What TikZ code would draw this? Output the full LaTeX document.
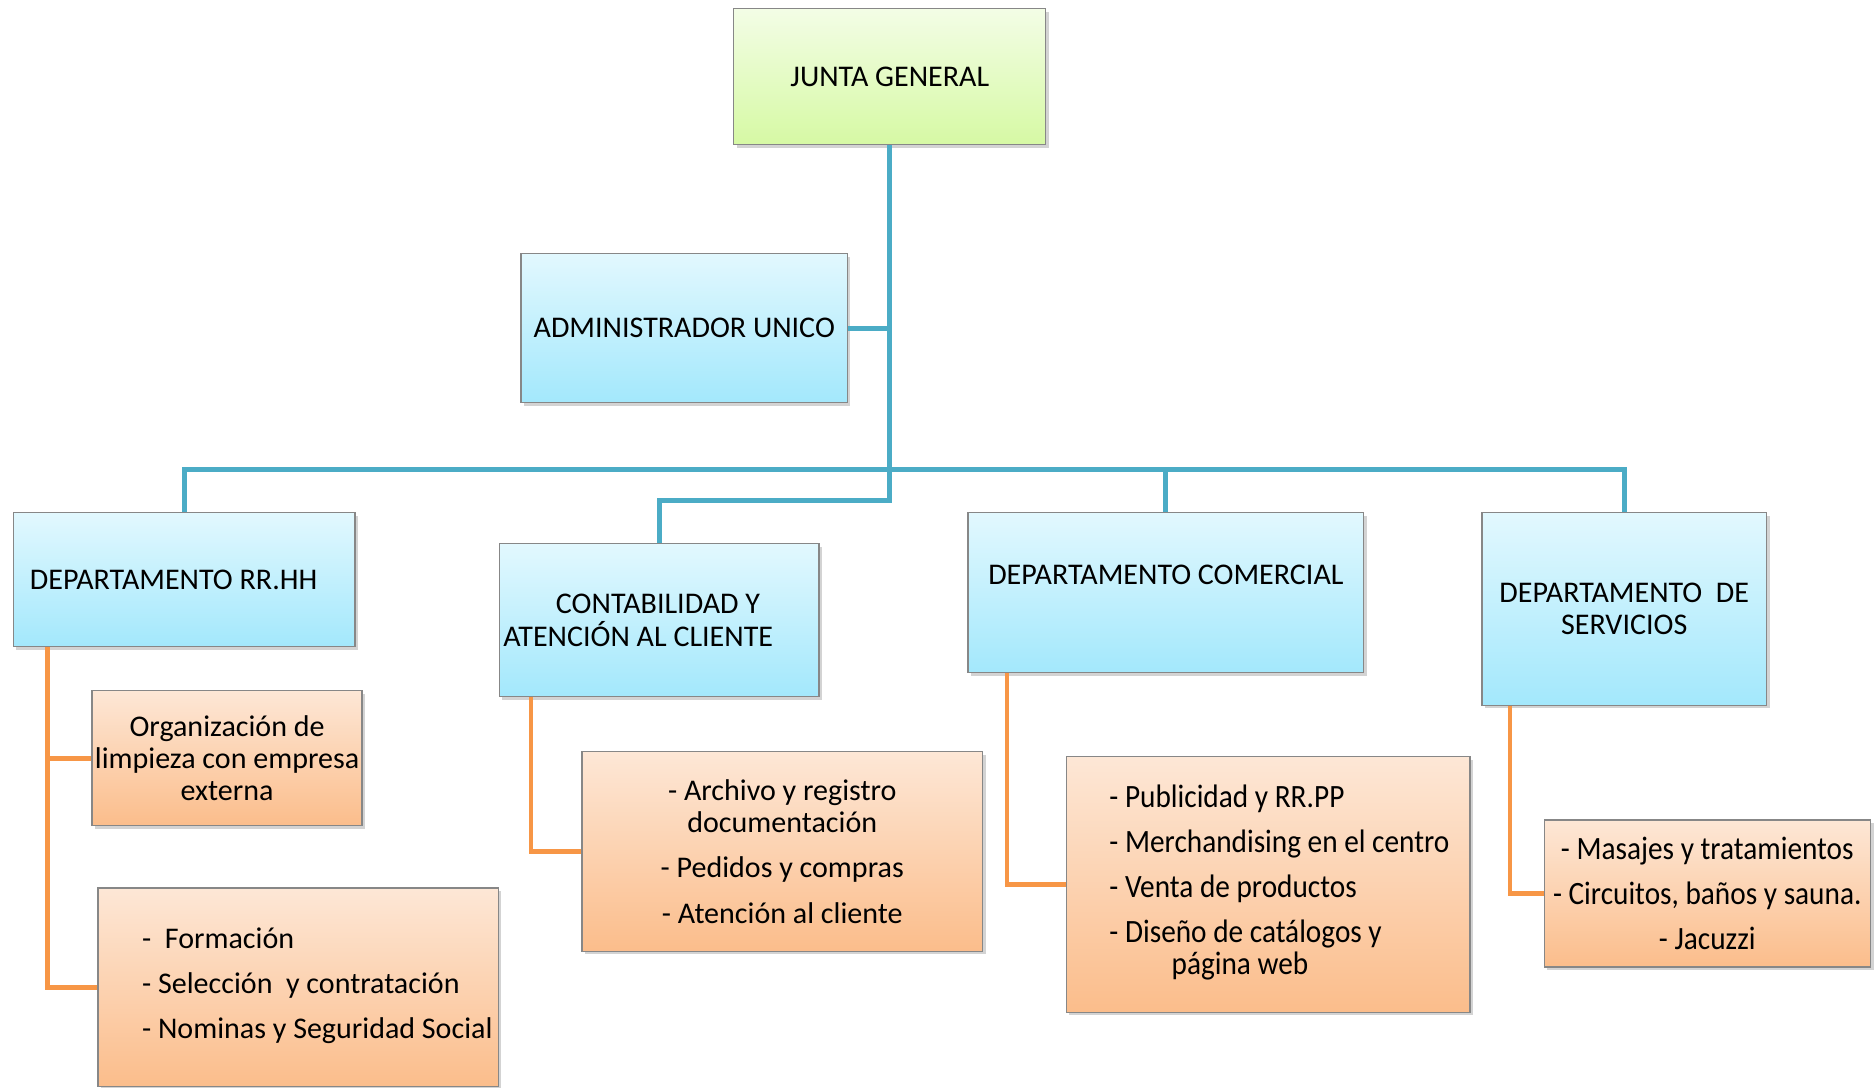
\documentclass[tikz,border=0pt]{standalone}
\usepackage{fontspec}
\setmainfont{Carlito}
\newfontfamily\narrowfont{Carlito}[FakeStretch=0.9]
\usetikzlibrary{
  shadows,
  positioning
}
\definecolor{lineBlue}{RGB}{75,172,198}
\definecolor{lineOrange}{RGB}{247,150,70}
\definecolor{boxGray}{RGB}{135,135,135}
\definecolor{greenTop}{RGB}{243,253,230}
\definecolor{greenBottom}{RGB}{214,249,164}
\definecolor{blueTop}{RGB}{226,248,254}
\definecolor{blueBottom}{RGB}{163,232,252}
\definecolor{orangeTop}{RGB}{253,231,214}
\definecolor{orangeBottom}{RGB}{251,189,139}
\tikzset{
  orgbox/.style={
    draw=boxGray,
    line width=0.6pt,
    inner sep=2pt,
    align=center,
    font=\fontsize{14.3}{15.3}\selectfont,
    drop shadow={shadow xshift=1.5pt, shadow yshift=-1.5pt, opacity=0.35}
  },
  greenbox/.style={orgbox, top color=greenTop, bottom color=greenBottom},
  bluebox/.style={orgbox, top color=blueTop, bottom color=blueBottom},
  orangebox/.style={orgbox, top color=orangeTop, bottom color=orangeBottom},
  narrowtext/.style={font=\narrowfont\fontsize{15.5}{15.3}\selectfont},
  blueline/.style={draw=lineBlue, line width=2.4pt},
  orangeline/.style={draw=lineOrange, line width=2.2pt}
}

\begin{document}
\begin{tikzpicture}[x=0.02cm, y=-0.02cm]
  \useasboundingbox (0,0) rectangle (1568,910);

  % main boxes
  \node[greenbox, minimum width=5.22cm, minimum height=2.28cm] (junta) at (744.5,64) {JUNTA GENERAL};
  \node[bluebox, minimum width=5.46cm, minimum height=2.5cm] (admin) at (572.5,274.5) {ADMINISTRADOR UNICO};

  % departments
  \node[bluebox, minimum width=5.72cm, minimum height=2.24cm] (rrhh) at (154,485) {DEPARTAMENTO RR.HH\hspace*{0.35cm}};
  \node[bluebox, minimum width=5.3cm, minimum height=2.56cm, align=left] (contab) at (551.5,519)
    {\hspace*{0.88cm}CONTABILIDAD Y\\ATENCIÓN AL CLIENTE\hspace*{0.7cm}};
  \node[bluebox, minimum width=6.62cm, minimum height=2.68cm] (comercial) at (975.5,496)
    {DEPARTAMENTO COMERCIAL\\[2pt]\mbox{}};
  \node[bluebox, minimum width=4.76cm, minimum height=3.22cm] (servicios) at (1359,509.5)
    {DEPARTAMENTO\ \ DE\\SERVICIOS};

  % tasks
  \node[orangebox, inner xsep=0pt, minimum width=4.52cm, minimum height=2.26cm] (limpieza) at (190,634.5)
    {Organización de\\limpieza con empresa\\externa};
  \node[orangebox, minimum width=6.7cm, minimum height=3.32cm] (formacion) at (249.5,826)
    {\hspace*{0.64cm}\begin{tabular}{@{}l@{}}
      -\ \ Formación\\[6.2pt]
      - Selección\ \ y contratación\\[6.2pt]
      - Nominas y Seguridad Social
    \end{tabular}};
  \node[orangebox, minimum width=6.7cm, minimum height=3.34cm] (archivo) at (654.5,712.5)
    {- Archivo y registro\\documentación\\[6.2pt]- Pedidos y compras\\[6.2pt]- Atención al cliente};
  \node[orangebox, narrowtext, minimum width=6.76cm, minimum height=4.28cm] (publicidad) at (1061,740)
    {\hspace*{0.38cm}\begin{tabular}{@{}l@{}}
      - Publicidad y RR.PP\\[6pt]
      - Merchandising en el centro\\[6pt]
      - Venta de productos\\[6pt]
      - Diseño de catálogos y\\
      \hspace*{1.04cm}página web
    \end{tabular}};
  \node[orangebox, narrowtext, minimum width=5.46cm, minimum height=2.46cm] (masajes) at (1428.5,747.5)
    {- Masajes y tratamientos\\[6pt]- Circuitos, baños y sauna.\\[6pt]- Jacuzzi};

  % blue connectors
  \coordinate (trunk) at (744.5,419);
  \coordinate (bus) at (154,393);
  \draw[blueline] (junta.south) -- (trunk) -| (contab.north);
  \draw[blueline] (admin.east) -- (admin.east -| junta.south);
  \draw[blueline] (rrhh.north) -- (bus) -| (servicios.north);
  \draw[blueline] (comercial.north) -- (comercial.north |- bus);

  % orange connectors
  \coordinate (rrhhStem) at ([xshift=0.58cm]rrhh.south west);
  \draw[orangeline] (rrhhStem) |- (formacion.west);
  \draw[orangeline] (limpieza.west) -- (limpieza.west -| rrhhStem);
  \draw[orangeline] ([xshift=0.54cm]contab.south west) |- (archivo.west);
  \draw[orangeline] ([xshift=0.66cm]comercial.south west) |- (publicidad.west);
  \draw[orangeline] ([xshift=0.48cm]servicios.south west) |- (masajes.west);
\end{tikzpicture}
\end{document}
